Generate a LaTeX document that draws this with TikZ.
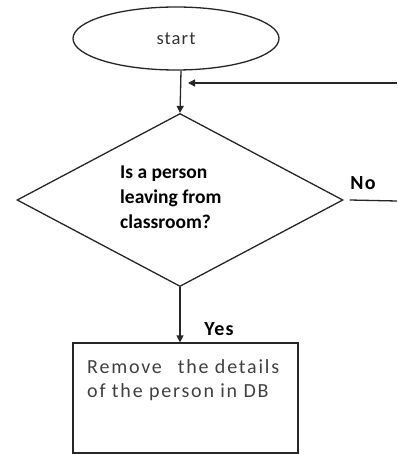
\documentclass[tikz,border=0pt]{standalone}
\usepackage{fontspec}
\setmainfont{Carlito}
\usetikzlibrary{shapes.geometric,arrows.meta}
\begin{document}
\begin{tikzpicture}[x=1pt,y=-1pt,
  shapeline/.style={draw=black!85,line width=1.3pt},
  flow/.style={draw=black!85,line width=1.3pt,-{Triangle[length=7pt,width=7pt]}},
  plain/.style={draw=black!85,line width=1.3pt},
  lbl/.style={font=\bfseries\fontsize{20}{22}\selectfont\addfontfeatures{LetterSpace=6},inner sep=0pt}]
\useasboundingbox (0,0) rectangle (397,454);
\node[ellipse,shapeline,minimum width=206pt,minimum height=63pt,inner sep=0pt,text=black!80,
  font=\fontsize{18.5}{20}\selectfont\addfontfeatures{LetterSpace=6}] (start) at (176,38.5) {start};
\coordinate (s1) at (181,71);
\node[diamond,shapeline,minimum width=326pt,minimum height=173pt,inner sep=0pt] (dec) at (180,200) {};
\node[anchor=west,align=left,inner sep=0pt,
  font=\bfseries\fontsize{19.5}{25}\selectfont] (dectxt) at (120,197) {Is a person\\leaving from\\classroom?};
\node[rectangle,shapeline,minimum width=225pt,minimum height=110pt,inner sep=0pt] (rem) at (185.5,398) {};
\node[anchor=north west,align=left,inner sep=0pt,text=black!75,
  font=\fontsize{20}{24}\selectfont\addfontfeatures{LetterSpace=9}] (remtxt) at (87,359) {Remove\hspace{16pt}the details\\of the person in DB};
\coordinate (loopin) at (397,83);
\coordinate (loopend) at (188,83);
\coordinate (noout) at (397,201);
\draw[flow] (s1) -- (dec.north);
\draw[flow] (loopin) -- (loopend);
\draw[plain] ([xshift=6pt]dec.east) -- (noout);
\draw[flow] (dec.south) -- (rem.north -| dec.south);
\node[lbl] (no) at (363,183) {No};
\node[lbl] (yes) at (219,329) {Yes};
\end{tikzpicture}
\end{document}
